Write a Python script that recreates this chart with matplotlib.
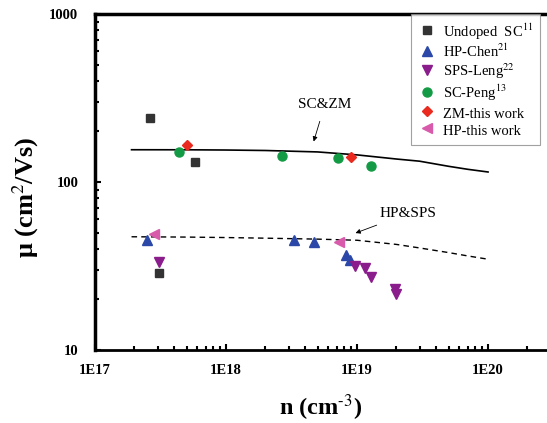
import numpy as np
import matplotlib.pyplot as plt

plt.rcParams['font.family'] = ['Liberation Serif', 'DejaVu Serif']
plt.rcParams['mathtext.fontset'] = 'stix'

# data
undoped_n = [2.64e17, 5.8e17, 3.1e17]
undoped_mu = [241, 131, 28.6]
chen_n = [2.5e17, 3.3e18, 4.7e18, 8.2e18, 8.9e18]
chen_mu = [45.2, 45.4, 44.1, 36.8, 34.3]
leng_n = [3.1e17, 9.7e18, 1.15e19, 1.27e19, 1.95e19, 2.0e19]
leng_mu = [33.3, 31.6, 30.6, 27.3, 23.0, 21.5]
peng_n = [4.4e17, 2.66e18, 7.1e18, 1.27e19]
peng_mu = [150, 143, 139.6, 125]
zm_n = [5.0e17, 8.95e18]
zm_mu = [167, 141]
hp_n = [2.84e17, 7.3e18]
hp_mu = [49, 43.8]

fit_n = [1.9e17, 5e17, 1e18, 2e18, 5e18, 1e19, 2e19, 3e19, 5e19, 7e19, 1e20]
sczm_mu = [155.6, 155.5, 155, 154, 151, 145, 137, 133, 124, 119, 114.7]
hpsps_mu = [47.2, 47.0, 46.7, 46.3, 45.7, 45.0, 42.5, 40.5, 38, 36.3, 34.7]

fig = plt.figure(figsize=(5.47, 4.23), dpi=100)
ax = fig.add_axes([0.1737, 0.1726, 0.8263, 0.7943])

ax.plot(fit_n, sczm_mu, 'k-', lw=1.2)
ax.plot(fit_n, hpsps_mu, 'k--', lw=1.0, dashes=(4, 3))

ax.plot(undoped_n, undoped_mu, 's', color='#333333', ms=5.5, ls='none', label='Undoped  SC$^{11}$')
ax.plot(chen_n, chen_mu, '^', color='#2b48a8', ms=7, ls='none', label='HP-Chen$^{21}$')
ax.plot(leng_n, leng_mu, 'v', color='#8a1c8c', ms=7, ls='none', label='SPS-Leng$^{22}$')
ax.plot(peng_n, peng_mu, 'o', color='#139a44', ms=6.5, ls='none', label='SC-Peng$^{13}$')
ax.plot(zm_n, zm_mu, 'D', color='#ea2a1f', ms=5.5, ls='none', label='ZM-this work')
ax.plot(hp_n, hp_mu, '<', color='#d85aaa', ms=7, ls='none', label='HP-this work')

ax.annotate('SC&ZM', xy=(4.6e18, 168), xytext=(5.7e18, 291), ha='center', va='center',
            fontsize=11,
            arrowprops=dict(arrowstyle='-|>', color='k', lw=0.6, mutation_scale=7, shrinkA=6))
ax.annotate('HP&SPS', xy=(9.3e18, 49), xytext=(2.45e19, 65), ha='center', va='center',
            fontsize=11,
            arrowprops=dict(arrowstyle='-|>', color='k', lw=0.6, mutation_scale=7,
                            shrinkA=5))

ax.set_xscale('log')
ax.set_yscale('log')
ax.set_xlim(1e17, 10 ** 20.45)
ax.set_ylim(10, 1000)
ax.set_xticks([1e17, 1e18, 1e19, 1e20])
ax.set_xticklabels(['1E17', '1E18', '1E19', '1E20'])
ax.set_yticks([10, 100, 1000])
ax.set_yticklabels(['10', '100', '1000'])
ax.tick_params(which='both', direction='in', top=False, right=False, width=1.5)
ax.tick_params(which='major', length=4, labelsize=10.5)
ax.tick_params(which='minor', length=3)
ax.tick_params(axis='x', pad=10)
ax.tick_params(axis='y', pad=12)
for lab in ax.get_xticklabels() + ax.get_yticklabels():
    lab.set_fontweight('bold')

ax.spines['right'].set_visible(False)
for s in ['left', 'top']:
    ax.spines[s].set_linewidth(2.5)
ax.spines['bottom'].set_linewidth(2)

ax.set_xlabel(r'n (cm$^{\text{-3}}$)', fontsize=17.5, fontweight='bold', labelpad=11)
ax.set_ylabel('μ (cm$^{2}$/Vs)', fontsize=19, fontweight='bold')
ax.yaxis.set_label_coords(-0.12, 0.455)

leg = ax.legend(loc='upper right', bbox_to_anchor=(0.985, 1.0), borderaxespad=0,
                fontsize=10.5, frameon=True, fancybox=False, edgecolor='#8a8a8a',
                handletextpad=0.5, borderpad=0.5, labelspacing=0.1, handleheight=1.3,
                handlelength=1.2)
leg.get_frame().set_linewidth(0.8)

fig.savefig('out.png', dpi=100)
